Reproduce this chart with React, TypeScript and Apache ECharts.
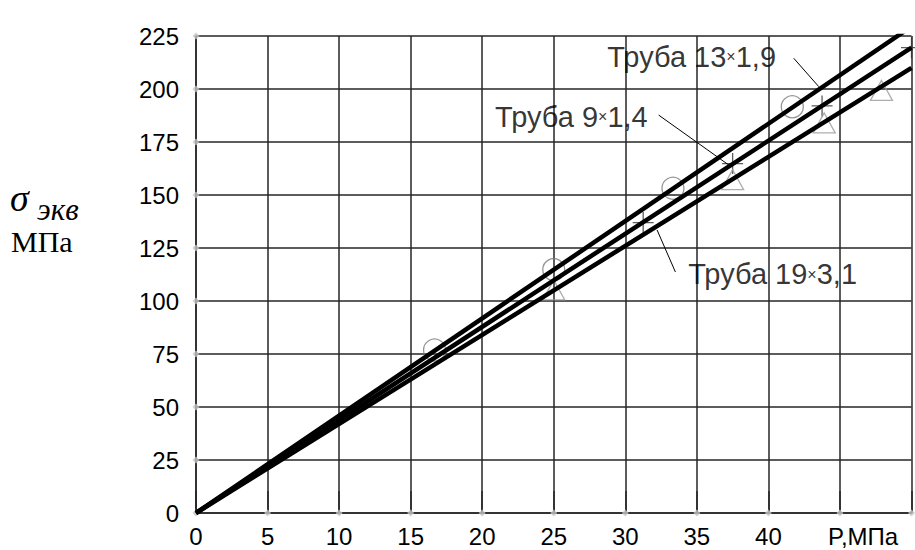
import React, { useEffect, useRef } from "react";
import * as echarts from "echarts";

// ---- data ----
const xTickValues = [0, 5, 10, 15, 20, 25, 30, 35, 40, 45, 50];
const yTickValues = [0, 25, 50, 75, 100, 125, 150, 175, 200, 225];
const xAxisTitle = "P,МПа";
const yTitleSymbol = "σ";
const yTitleSub = "экв";
const yTitleUnit = "МПа";

const pipeNames = ["Труба 13×1,9", "Труба 9×1,4", "Труба 19×3,1"];
const lineTop = [[0, 0], [50, 229.5]];
const lineMid = [[0, 0], [50, 219.5]];
const lineBot = [[0, 0], [50, 210]];

const circlePts = [[16.67, 76.9], [25, 114.8], [33.33, 153.2], [41.67, 191.6], [50, 230]];
const crossPts = [[31.25, 137], [37.5, 164.8], [43.75, 192], [50, 219.5]];
const trianglePts = [[25, 105.2], [37.5, 157.2], [43.9, 184], [47.9, 199.3]];

// annotation anchors (data coords) and leader lines
const annoAnchors = [[28.74, 215.1], [20.9, 186.8], [34.4, 112.7]];
const leaderLines = [
  [[41.77, 214.5], [43.52, 201.1]],
  [[32.33, 187.7], [37.22, 164.2]],
  [[32.22, 133.5], [33.5, 113.7]],
];

const SANS = "Liberation Sans";
const SERIF = "Liberation Serif";
const GRID_COLOR = "#262626";

export default function App() {
  const ref = useRef<HTMLDivElement>(null);
  useEffect(() => {
    if (!ref.current) return;
    const chart = echarts.init(ref.current, null, { renderer: "svg" });
    const lineStyle = { color: GRID_COLOR, width: 1.5 };
    const richLabel = (t: string) => {
      const p = t.split("×");
      return `{a|${p[0]}}{x|×}{a|${p[1]}}`;
    };
    const option: any = {
      animation: false,
      grid: { left: 196, right: 3.5, top: 36, bottom: 37, containLabel: false },
      xAxis: [
        {
          type: "value",
          min: 0,
          max: 50,
          interval: 5,
          position: "bottom",
          axisLine: { show: true, onZero: false, lineStyle },
          axisTick: { show: false },
          splitLine: { show: true, lineStyle },
          axisLabel: {
            formatter: (v: number) => (v <= 40 ? String(v) : ""),
            fontFamily: SANS,
            fontSize: 24,
            color: "#000",
            margin: 11,
          },
          name: xAxisTitle,
          nameLocation: "end",
          nameGap: -83.5,
          nameTextStyle: {
            fontFamily: SANS,
            fontSize: 24,
            color: "#000",
            align: "left",
            verticalAlign: "top",
            padding: [11, 0, 0, 0],
          },
        },
        {
          type: "value",
          min: 0,
          max: 50,
          interval: 5,
          position: "top",
          axisLine: { show: false },
          axisTick: { show: true, inside: false, length: 22, lineStyle },
          axisLabel: { show: false },
          splitLine: { show: false },
        },
      ],
      yAxis: {
        type: "value",
        min: 0,
        max: 225,
        interval: 25,
        axisLine: { show: true, lineStyle },
        axisTick: { show: false },
        splitLine: { show: true, lineStyle },
        axisLabel: { fontFamily: SANS, fontSize: 24, color: "#000", margin: 17 },
      },
      graphic: [
        {
          type: "text",
          x: 10,
          y: 198,
          style: {
            text: yTitleSymbol,
            fontFamily: SERIF,
            fontStyle: "italic",
            fontSize: 38,
            fill: "#000",
            verticalAlign: "middle",
          },
        },
        {
          type: "text",
          x: 37,
          y: 209,
          style: {
            text: yTitleSub,
            fontFamily: SERIF,
            fontStyle: "italic",
            fontSize: 31,
            fill: "#000",
            verticalAlign: "middle",
          },
        },
        {
          type: "text",
          x: 11,
          y: 241,
          style: {
            text: yTitleUnit,
            fontFamily: SERIF,
            fontSize: 30,
            fill: "#000",
            verticalAlign: "middle",
          },
        },
      ],
      series: [
        {
          type: "scatter",
          z: 1,
          silent: true,
          symbol: "diamond",
          symbolSize: 7,
          itemStyle: { color: "#c4c4c4" },
          data: [
            ...xTickValues.filter((v) => v > 0).map((v) => [v, 0]),
            ...yTickValues.map((v) => [0, v]),
          ],
        },
        {
          type: "scatter",
          z: 2,
          symbol: "circle",
          symbolSize: 22,
          itemStyle: { color: "rgba(0,0,0,0)", borderColor: "#7a7a7a", borderWidth: 1.3 },
          data: circlePts,
        },
        {
          type: "scatter",
          z: 2,
          symbol: "path://M0,10 L20,10 M10,0 L10,20",
          symbolSize: 21,
          itemStyle: { color: "none", borderColor: "#333", borderWidth: 1.3 },
          data: crossPts,
        },
        {
          type: "scatter",
          z: 2,
          symbol: "triangle",
          symbolSize: [22, 20],
          itemStyle: { color: "rgba(0,0,0,0)", borderColor: "#9a9a9a", borderWidth: 1.3 },
          data: trianglePts,
        },
        ...[lineTop, lineMid, lineBot].map((d, i) => ({
          type: "line",
          name: pipeNames[i],
          z: 3,
          symbol: "none",
          lineStyle: { color: "#000", width: 4.5 },
          data: d,
        })),
        ...leaderLines.map((d) => ({
          type: "line",
          z: 3,
          symbol: "none",
          silent: true,
          lineStyle: { color: "#000", width: 1 },
          data: d,
        })),
        {
          type: "scatter",
          z: 4,
          symbolSize: 0,
          silent: true,
          data: annoAnchors.map((p, i) => ({ value: p, name: pipeNames[i] })),
          label: {
            show: true,
            position: "right",
            distance: 0,
            formatter: (p: any) => richLabel(p.name),
            rich: {
              a: { fontFamily: SANS, fontSize: 29, color: "#000" },
              x: { fontFamily: SANS, fontSize: 16, color: "#000", verticalAlign: "middle" },
            },
          },
        },
      ],
    };
    chart.setOption(option);
    return () => chart.dispose();
  }, []);
  return (
    <div
      ref={ref}
      style={{ position: "absolute", left: 0, top: 0, width: 915, height: 550, background: "#fff" }}
    />
  );
}
